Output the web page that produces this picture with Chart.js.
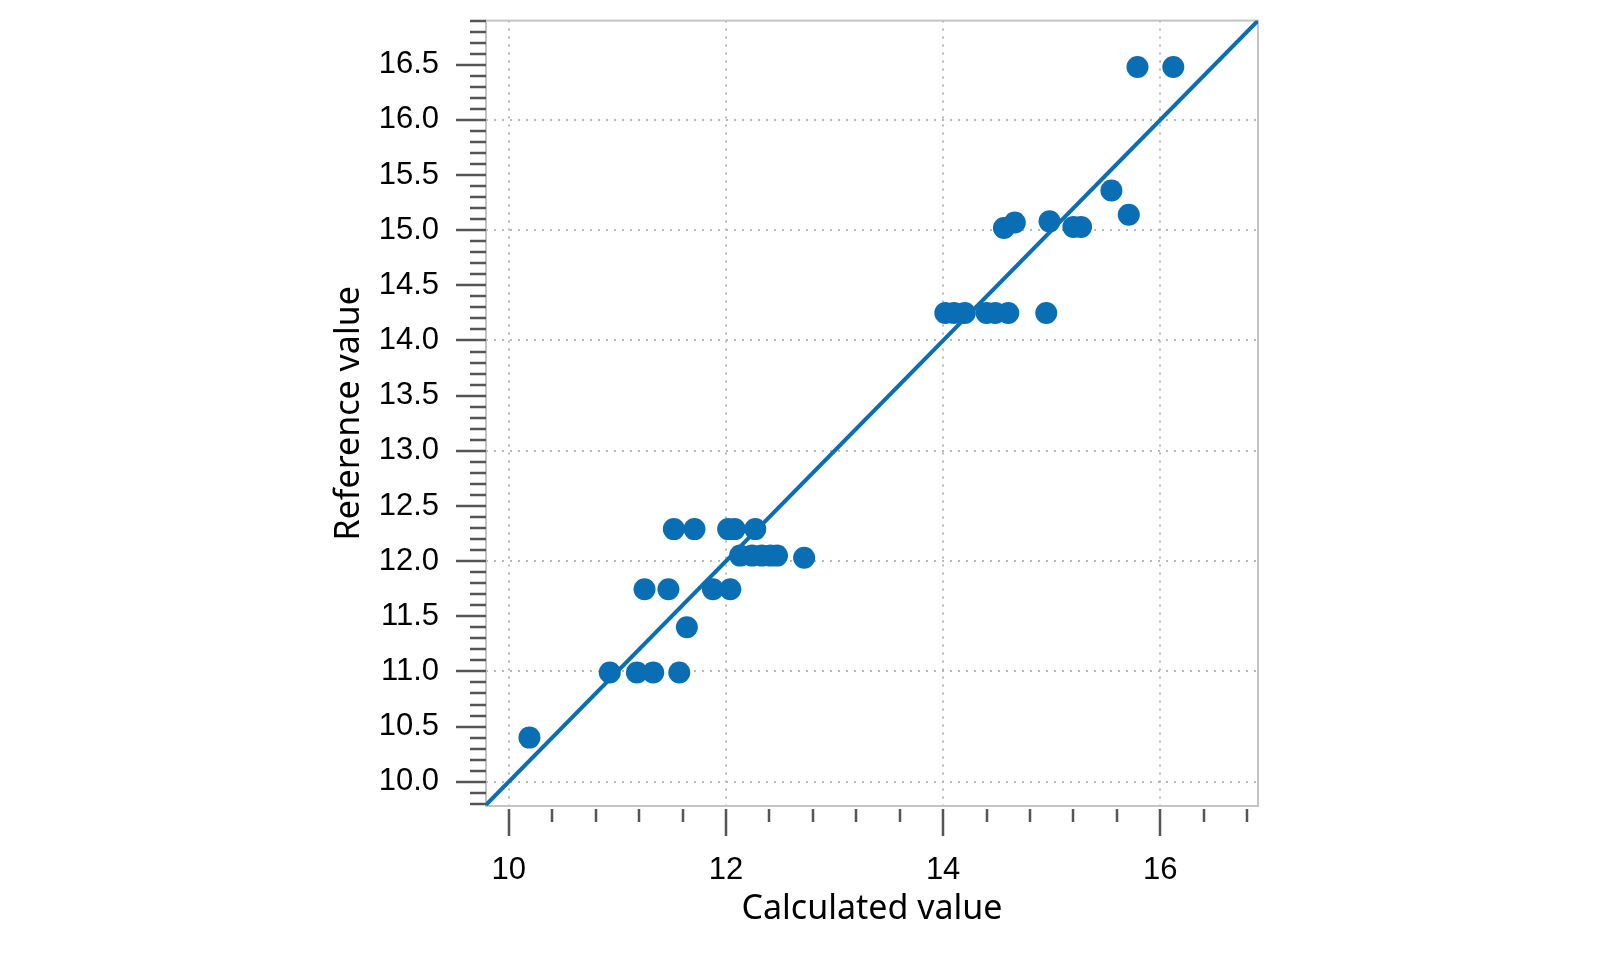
<!DOCTYPE html>
<html>
<head>
<meta charset="utf-8">
<title>Reference vs calculated value</title>
<script src="https://cdn.jsdelivr.net/npm/chart.js@4.4.1/dist/chart.umd.min.js"></script>
<style>
  html, body { margin: 0; padding: 0; background: #fff; }
  #wrap { width: 1600px; height: 961px; }
</style>
</head>
<body>
<div id="wrap"><canvas id="chart" width="1600" height="961"></canvas></div>
<script>
// --- DATA ---
const calculated = [
    10.19,
    10.93, 11.18, 11.33, 11.57,
    11.64,
    11.25, 11.47, 11.88, 12.04,
    11.52, 11.71, 12.02, 12.08, 12.27,
    12.13, 12.24, 12.33, 12.41, 12.47, 12.72,
    14.02, 14.10, 14.20, 14.40, 14.48, 14.60, 14.95,
    14.56, 14.66, 14.98, 15.20, 15.27,
    15.55, 15.71,
    15.79, 16.12
];
const reference = [
    10.40,
    10.99, 10.99, 10.99, 10.99,
    11.40,
    11.745, 11.745, 11.745, 11.745,
    12.29, 12.29, 12.29, 12.29, 12.29,
    12.05, 12.05, 12.05, 12.05, 12.05, 12.03,
    14.25, 14.25, 14.25, 14.25, 14.25, 14.25, 14.25,
    15.02, 15.07, 15.08, 15.03, 15.03,
    15.36, 15.14,
    16.48, 16.48
];
const identityLine = [9.79, 16.9];          // y = x across the plot
const xRange = [9.79, 16.9];
const yRange = [9.78, 16.9];
const xTickValues = [10, 12, 14, 16];
const yTickValues = [10.0, 10.5, 11.0, 11.5, 12.0, 12.5, 13.0, 13.5, 14.0, 14.5, 15.0, 15.5, 16.0, 16.5];

const blue = '#0a6eb4';
const gridGrey = '#b8b8b8';
const tickFont = { family: "'Liberation Sans', Arial, sans-serif", size: 31 };
const titleFont = { family: "'Noto Sans', 'Open Sans', sans-serif", size: 34 };

// frame round the plot + major/minor tick marks (drawn from the scales)
const frameAndTicks = {
    id: 'frameAndTicks',
    beforeDatasetsDraw(chart) {
        const { ctx, chartArea: a } = chart;
        ctx.save();
        ctx.strokeStyle = '#c4c4c4';
        ctx.lineWidth = 2;
        ctx.strokeRect(a.left, a.top, a.right - a.left, a.bottom - a.top);
        ctx.restore();
    },
    afterDraw(chart) {
        const { ctx, chartArea: a, scales: { x, y } } = chart;
        ctx.save();
        ctx.strokeStyle = '#555';
        ctx.lineWidth = 2.5;
        ctx.beginPath();
        // x: minor every 0.4, major every 2
        for (let i = 0; 10 + i * 0.4 <= x.max + 1e-9; i++) {
            const px = Math.round(x.getPixelForValue(10 + i * 0.4));
            const major = i % 5 === 0;
            ctx.moveTo(px, a.bottom + 3);
            ctx.lineTo(px, a.bottom + (major ? 30 : 16));
        }
        // y: minor every 0.1, major every 0.5
        for (let i = Math.ceil(y.min * 10); i <= Math.floor(y.max * 10 + 1e-9); i++) {
            const py = Math.round(y.getPixelForValue(i / 10));
            const major = i % 5 === 0;
            ctx.moveTo(a.left, py);
            ctx.lineTo(a.left - (major ? 30 : 16), py);
        }
        ctx.stroke();
        ctx.restore();
    }
};

const points = calculated.map((c, i) => ({ x: c, y: reference[i] }));

new Chart(document.getElementById('chart'), {
    type: 'scatter',
    data: {
        datasets: [
            {
                type: 'line',
                data: identityLine.map(v => ({ x: v, y: v })),
                borderColor: blue,
                borderWidth: 4,
                pointRadius: 0,
                fill: false
            },
            {
                data: points,
                backgroundColor: blue,
                borderWidth: 0,
                pointRadius: 11,
                pointHoverRadius: 11
            }
        ]
    },
    options: {
        responsive: false,
        animation: false,
        devicePixelRatio: 1,
        layout: { padding: { left: 329, right: 342, top: 20, bottom: 31 } },
        plugins: { legend: { display: false }, tooltip: { enabled: false } },
        scales: {
            x: {
                type: 'linear',
                min: xRange[0], max: xRange[1],
                afterBuildTicks: s => { s.ticks = xTickValues.map(v => ({ value: v })); },
                afterFit: s => { s.height = 124; },
                // tick space kept but marks hidden; the plugin draws the real ones
                grid: { color: gridGrey, lineWidth: 2, drawTicks: true, tickLength: 44, tickColor: 'rgba(0,0,0,0)' },
                border: { display: false, dash: [2, 6] },
                ticks: { padding: 2, color: '#000', font: tickFont, maxRotation: 0, autoSkip: false, callback: v => String(v) },
                title: { display: true, text: 'Calculated value', color: '#000', font: titleFont, padding: 0 }
            },
            y: {
                type: 'linear',
                min: yRange[0], max: yRange[1],
                afterBuildTicks: s => { s.ticks = yTickValues.map(v => ({ value: v })); },
                afterFit: s => { s.width = 157; },
                grid: {
                    color: c => (c.tick && Number.isInteger(c.tick.value)) ? gridGrey : 'rgba(0,0,0,0)',
                    lineWidth: 2,
                    drawTicks: true,
                    tickLength: 45,
                    tickColor: 'rgba(0,0,0,0)'
                },
                border: { display: false, dash: [2, 6] },
                ticks: { padding: 2, color: '#000', font: tickFont, autoSkip: false, callback: v => v.toFixed(1) },
                title: { display: true, text: 'Reference value', color: '#000', font: titleFont, padding: 0 }
            }
        }
    },
    plugins: [frameAndTicks]
});
</script>
</body>
</html>
